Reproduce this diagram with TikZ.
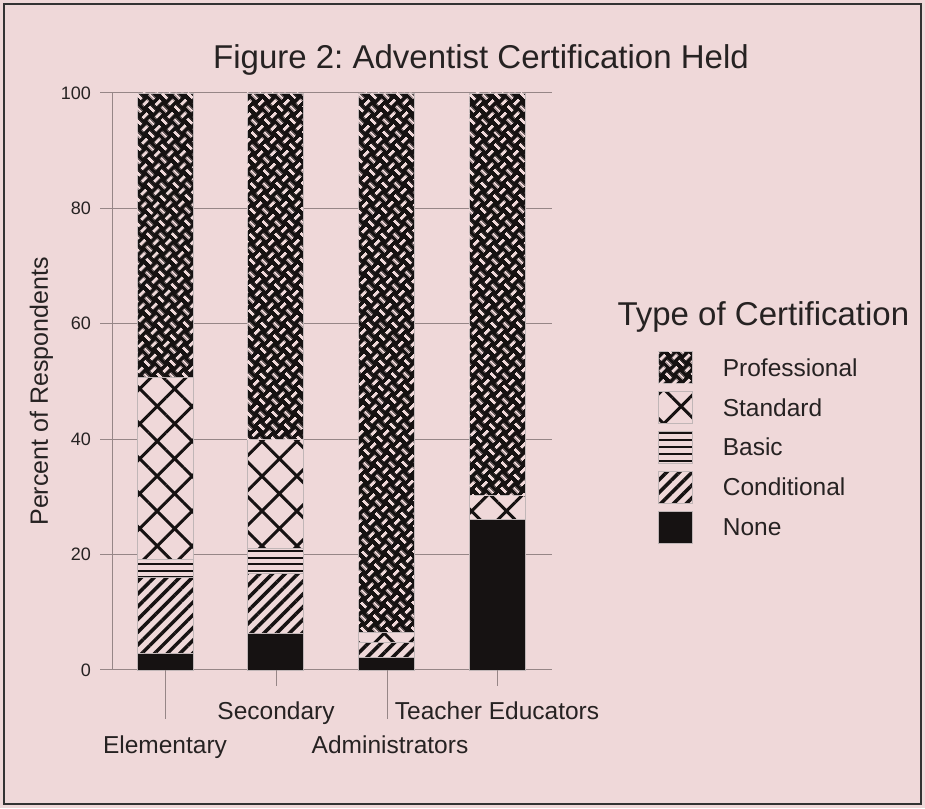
\documentclass[tikz,border=0pt]{standalone}
\usepackage{fontspec}
\setmainfont{Liberation Sans}
\usetikzlibrary{positioning}
\usetikzlibrary{patterns.meta}

\definecolor{bg}{RGB}{239,216,217}
\definecolor{ink}{RGB}{22,18,18}
\definecolor{gridgray}{RGB}{150,134,135}
\definecolor{txt}{RGB}{38,34,34}

\tikzdeclarepattern{
  name=weave,
  bottom left={(0pt,0pt)},
  top right={(18pt,18pt)},
  tile size={(18pt,18pt)},
  tile transformation={rotate=45},
  code={
    \draw[line width=3pt] (0.8pt,4.5pt) -- (8.2pt,4.5pt) (13.5pt,0.8pt) -- (13.5pt,8.2pt)
      (4.5pt,9.8pt) -- (4.5pt,17.2pt) (9.8pt,13.5pt) -- (17.2pt,13.5pt);
  }
}

\tikzdeclarepattern{
  name=rules,
  bottom left={(0pt,0pt)},
  top right={(120pt,6.5pt)},
  tile size={(120pt,6.5pt)},
  code={
    \fill (0pt,2.35pt) rectangle (120pt,4.15pt);
  }
}

\begin{document}
\frenchspacing
\begin{tikzpicture}[x=1pt, y=1pt, font=\fontsize{24.5}{29}\selectfont, text=txt,
    gridline/.style={draw=gridgray, line width=1pt},
    bar/.style={draw=gridgray!60, line width=0.6pt},
    certprof/.style={bar, fill=ink, postaction={pattern=weave, pattern color=bg}},
    certstd/.style={bar, preaction={fill=bg}, pattern={Hatch[angle=45, distance=24.7pt, line width=3pt]}, pattern color=ink},
    certbasic/.style={bar, preaction={fill=bg}, pattern=rules, pattern color=ink},
    certcond/.style={bar, preaction={fill=bg}, pattern={Lines[angle=45, distance=9pt, line width=3.5pt]}, pattern color=ink},
    certnone/.style={bar, fill=ink},
    swatch/.style={minimum width=34pt, minimum height=32pt, inner sep=0pt},
    ticklabel/.style={anchor=east, inner sep=0pt, font=\fontsize{18}{22}\selectfont}]

  % page and frame
  \fill[bg] (0,0) rectangle (925,808);
  \useasboundingbox (0,0) rectangle (925,808);
  \draw[draw=black!80, line width=1.5pt] (4,4) rectangle (921,804);

  \node[font=\fontsize{33}{40}\selectfont] (title) at (481,748.5) {Figure 2: Adventist Certification Held};
  \node[rotate=90, font=\fontsize{25}{30}\selectfont] (ylab) at (41.5,416.5) {Percent of Respondents};

  \begin{scope}[shift={(0,138)}, y=5.77pt]
    % grid and scale
    \foreach \v in {0,20,...,100} {
      \draw[gridline] (100,\v) -- (552,\v);
      \node[ticklabel] at (91,\v) {\v};
    }
    \draw[gridline] (112,0) -- (112,100);

    % stacked bars
    \foreach \x/\a/\b/\s in {
        137/0/2.9/certnone, 137/2.9/16.1/certcond, 137/16.1/19.1/certbasic,
        137/19.1/50.8/certstd, 137/50.8/100/certprof,
        247/0/6.4/certnone, 247/6.4/16.8/certcond, 247/16.8/21.1/certbasic,
        247/21.1/40/certstd, 247/40/100/certprof,
        358/0/2.2/certnone, 358/2.2/4.8/certcond, 358/4.8/6.6/certstd,
        358/6.6/100/certprof,
        469/0/26.2/certnone, 469/26.2/30.2/certstd, 469/30.2/100/certprof}
      \path[\s] (\x,\a) rectangle (\x+56,\b);

    % category ticks
    \draw[gridline] (165,0) -- ++(0pt,-49pt) coordinate (telem);
    \draw[gridline] (276,0) -- ++(0pt,-15.5pt) coordinate (tsec);
    \draw[gridline] (387,0) -- ++(0pt,-49pt) coordinate (tadm);
    \draw[gridline] (497,0) -- ++(0pt,-15.5pt) coordinate (tteach);
  \end{scope}

  \node[below=13pt of telem] (elem) {Elementary};
  \node[below=13pt of tsec] (sec) {Secondary};
  \node[below=13pt of tadm, xshift=3pt] (adm) {Administrators};
  \node[below=13pt of tteach] (teach) {Teacher Educators};

  % legend
  \node[anchor=west, font=\fontsize{33}{40}\selectfont] (keytitle) at (614,491.3) {Type of Certification};
  \node[swatch, certprof] (kprof) at (675,440.5) {};
  \node[swatch, certstd, below=7.25pt of kprof] (kstd) {};
  \node[swatch, certbasic, below=7.25pt of kstd] (kbasic) {};
  \node[swatch, certcond, below=7.25pt of kbasic] (kcond) {};
  \node[swatch, certnone, below=7.25pt of kcond] (knone) {};
  \node[right=27pt of kprof] (lprof) {Professional};
  \node[right=27pt of kstd] (lstd) {Standard};
  \node[right=27pt of kbasic] (lbasic) {Basic};
  \node[right=27pt of kcond] (lcond) {Conditional};
  \node[right=27pt of knone] (lnone) {None};
\end{tikzpicture}
\end{document}
